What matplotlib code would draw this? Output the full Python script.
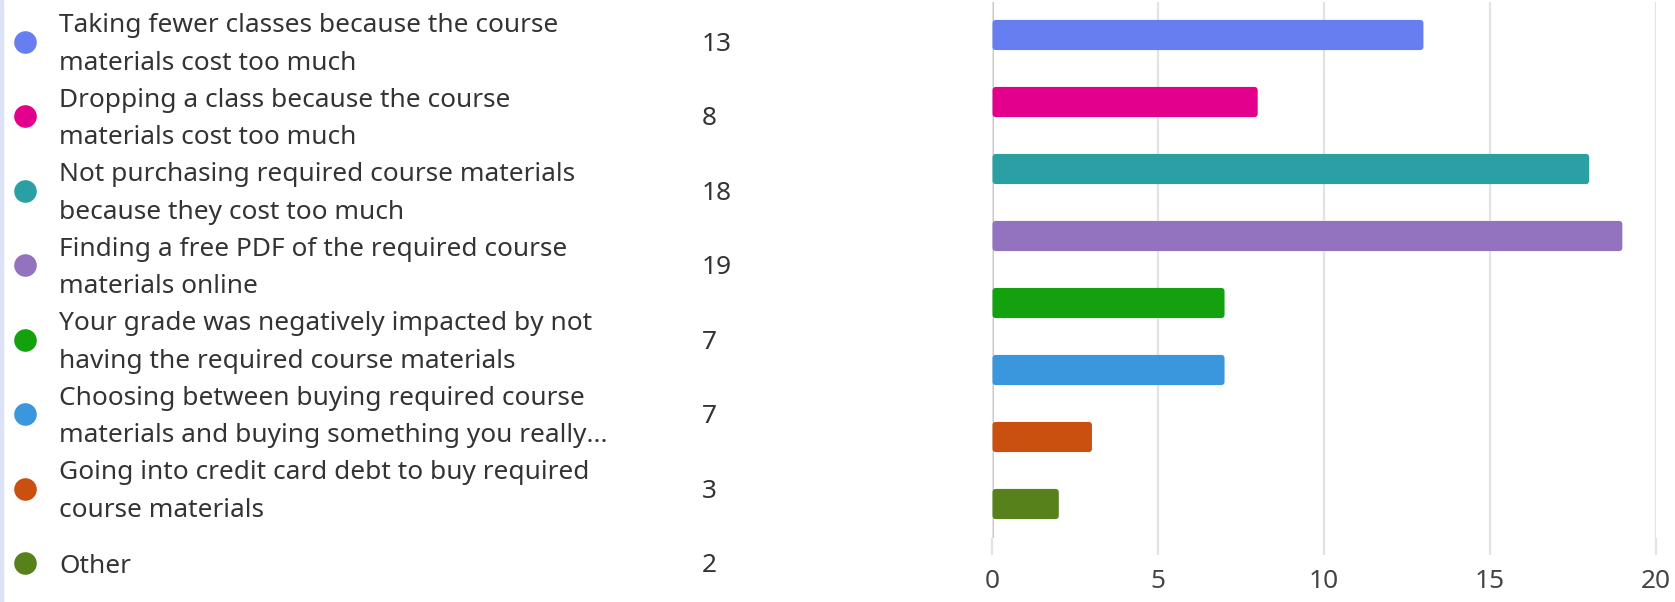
import matplotlib
matplotlib.use("Agg")
import matplotlib.pyplot as plt
from matplotlib.patches import FancyBboxPatch, Rectangle

plt.rcParams['font.family'] = ['Noto Sans', 'DejaVu Sans']

labels = [
    "Taking fewer classes because the course\nmaterials cost too much",
    "Dropping a class because the course\nmaterials cost too much",
    "Not purchasing required course materials\nbecause they cost too much",
    "Finding a free PDF of the required course\nmaterials online",
    "Your grade was negatively impacted by not\nhaving the required course materials",
    "Choosing between buying required course\nmaterials and buying something you really...",
    "Going into credit card debt to buy required\ncourse materials",
    "Other",
]
counts = [13, 8, 18, 19, 7, 7, 3, 2]
colors = ["#677ef0", "#e3008c", "#2aa0a4", "#9373c0", "#13a10e",
          "#3a96dd", "#ca5010", "#57811b"]
xticks = [0, 5, 10, 15, 20]

W, H = 1675, 602
fig = plt.figure(figsize=(W / 100, H / 100), dpi=100)
fs = 18.9
txt = "#333333"

# thin accent strip on the left edge
fig.patches.append(Rectangle((0, 0), 3 / W, 1, transform=fig.transFigure,
                             color="#dde3f7", zorder=0))

# legend + counts, drawn in pixel coordinates
ax_l = fig.add_axes([0, 0, 0.59, 1])
ax_l.set_xlim(0, 0.59 * W)
ax_l.set_ylim(H, 0)
ax_l.axis("off")
row0, step, gap = 41.7, 74.5, 37.5
for i, (lab, n, c) in enumerate(zip(labels, counts, colors)):
    yc = row0 + i * step
    ax_l.scatter([25.5], [yc], s=265, color=c, linewidths=0)
    lines = lab.split("\n")
    for j, line in enumerate(lines):
        yl = yc + 3 + (j - (len(lines) - 1) / 2) * gap
        ax_l.text(59, yl, line, fontsize=fs, color=txt, va="center", ha="left")
    ax_l.text(702, yc + 2.5, str(n), fontsize=fs, color=txt, va="center", ha="left")

# bar chart
left, right = 992.5, 1655.5
top, bottom = 1.5, 537.5
ax = fig.add_axes([left / W, 1 - bottom / H, (right - left) / W, (bottom - top) / H])
ypos = list(range(len(counts)))
bars = ax.barh(ypos, counts, height=0.45, color=colors)
ax.set_xlim(0, 20)
ax.set_ylim(len(counts) - 0.5, -0.5)

# rounded bar corners
px_x = 20 / (right - left)
px_y = len(counts) / (bottom - top)
for b in bars:
    x, y = b.get_x(), b.get_y()
    w, h = b.get_width(), b.get_height()
    b.set_visible(False)
    ax.add_patch(FancyBboxPatch((x, y), w, h,
                                boxstyle="round,pad=0,rounding_size=%f" % (3.5 * px_x),
                                mutation_aspect=px_y / px_x,
                                facecolor=b.get_facecolor(), edgecolor="none", zorder=3))

ax.set_xticks(xticks)
ax.set_yticks([])
ax.grid(axis="x", color="#e3e3e3", linewidth=1.6, zorder=0)
ax.axvline(0, color="#c8c8c8", linewidth=2.2, zorder=1)
for s in ax.spines.values():
    s.set_visible(False)
ax.tick_params(axis="x", length=12.5, width=1.6, color="#e3e3e3",
               labelsize=fs, labelcolor="#444444", pad=10.5)

fig.savefig("out.png", dpi=100)
